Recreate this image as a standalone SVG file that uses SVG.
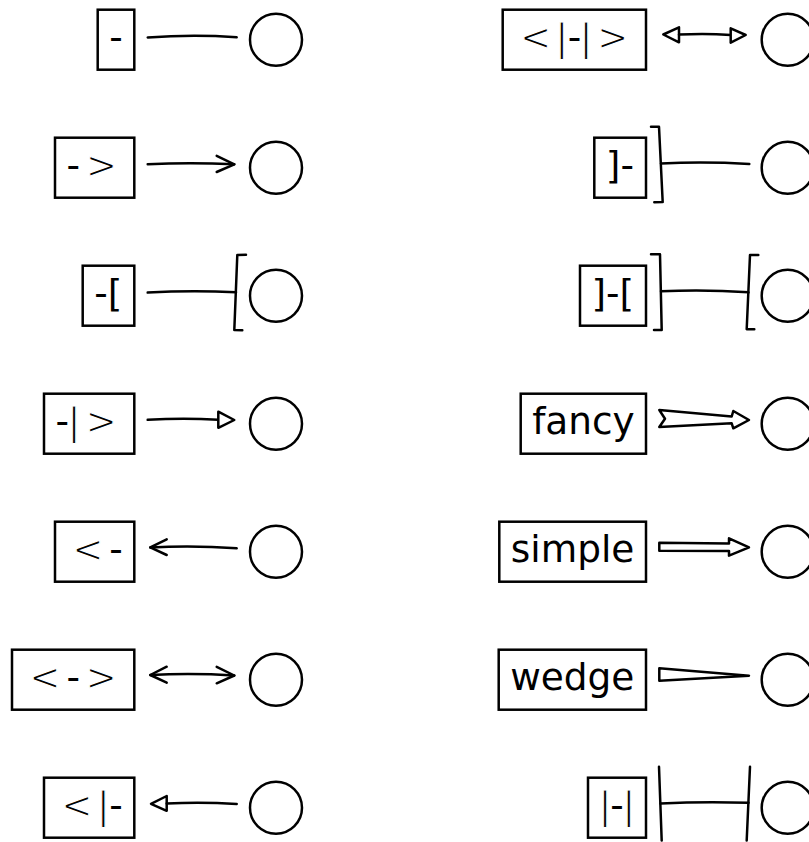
<svg xmlns="http://www.w3.org/2000/svg" width="809" height="842" viewBox="0 0 809 842">
<style>
.bx{fill:#fff;stroke:#000;stroke-width:2.5}
.ci{fill:none;stroke:#000;stroke-width:2.5}
.t{font-family:"DejaVu Sans",sans-serif;font-size:37.45px;fill:#000}
.th{stroke:#fff;stroke-width:1.1;paint-order:fill stroke}
.tb{stroke:#fff;stroke-width:0.9;paint-order:fill stroke}
.ln{fill:none;stroke:#000;stroke-width:2.5;stroke-linecap:round;stroke-linejoin:round}
.hd{fill:#fff;stroke:#000;stroke-width:2.5;stroke-linejoin:round}
</style>
<rect width="809" height="842" fill="#fff"/>
<g id="connectors">
<path class="ln" d="M147.7,37.5 Q192,34.2 236.7,37.2"/>
<path class="ln" d="M147.7,164.3 Q190,162 234.3,164.3"/>
<path class="ln" d="M216.7,155.9 L234.3,164.3 L216.7,172"/>
<path class="ln" d="M147.7,292.6 Q192,290 236,292.3"/>
<path class="ln" d="M246,254.7 L237.3,255 L234.3,330 L242.3,330.3"/>
<path class="ln" d="M147.7,419.8 Q184,417.5 218.3,419.8"/>
<path class="hd" d="M218.3,411.7 L234.3,420 L218.3,427.8 Z"/>
<path class="ln" d="M150.3,547.5 Q194,545.3 236.7,548.3"/>
<path class="ln" d="M166.7,539.3 L150.3,547.4 L166.7,555"/>
<path class="ln" d="M150.3,675 Q192,672.8 234.3,675.5"/>
<path class="ln" d="M166.7,666.7 L150.3,675 L166.7,682.7"/>
<path class="ln" d="M216.7,666.9 L234.3,675.5 L216.7,683.3"/>
<path class="hd" d="M166.7,796 L151,803.8 L166.7,810.8 Z"/>
<path class="ln" d="M166.7,803.5 Q202,801.8 236.7,804"/>
<path class="hd" d="M679,27.3 L663.3,34.5 L679,42.3 Z"/>
<path class="ln" d="M679,34.6 Q705,33 730.7,35"/>
<path class="hd" d="M730.7,28.3 L745.7,35 L730.7,42.7 Z"/>
<path class="ln" d="M651,126.7 L659,126.7 L662.7,202 L654.3,202.3"/>
<path class="ln" d="M661,163.5 Q705,161.5 749.3,164"/>
<path class="ln" d="M651,254.3 L660,254.3 L661.7,330 L654,330"/>
<path class="ln" d="M661,291.3 Q705,289.3 748.5,292.3"/>
<path class="ln" d="M758.3,255 L750,255 L746.7,329.3 L754.3,329.3"/>
<path class="hd" d="M659.3,410 L731.7,416.5 L733.3,411 L749,420 L733.3,428.3 L731.7,423.3 L659.3,427 L665,418.7 Z"/>
<path class="hd" d="M659.3,542.7 L729,543.4 L729,538.3 L749,547.3 L729,555.7 L729,550.9 L659.3,550.7 Z"/>
<path class="hd" d="M659.3,668.3 L749,675.7 L659.3,680.7 Z"/>
<path class="ln" d="M659,766.7 L661.7,840.5"/>
<path class="ln" d="M750,766.7 L746.7,840.5"/>
<path class="ln" d="M660.5,803.4 Q705,801.4 748.5,802.8"/>
</g>
<g id="label-dash"><rect class="bx" x="97.7" y="9.7" width="36.6" height="60"/><text class="t" x="109.2" y="49.6">-</text></g>
<g id="circle-1"><circle class="ci" cx="276" cy="39.7" r="26"/></g>
<g id="label-arrow"><rect class="bx" x="55" y="137.7" width="79.3" height="60"/><text class="t" y="177.6" transform="rotate(0.01 90 167)"><tspan x="66.5">-</tspan><tspan class="th" x="85.7">&gt;</tspan></text></g>
<g id="circle-2"><circle class="ci" cx="276" cy="167.7" r="26"/></g>
<g id="label-bracketb"><rect class="bx" x="82.7" y="265.7" width="51.6" height="60"/><text class="t" y="305.6"><tspan x="94.2">-</tspan><tspan x="107.7">[</tspan></text></g>
<g id="circle-3"><circle class="ci" cx="276" cy="295.7" r="26"/></g>
<g id="label-triangle"><rect class="bx" x="44" y="393.7" width="90.3" height="60"/><text class="t" y="433.6" transform="rotate(0.01 90 423)"><tspan x="55.5">-</tspan><tspan class="tb" x="67.8">|</tspan><tspan class="th" x="85.4">&gt;</tspan></text></g>
<g id="circle-4"><circle class="ci" cx="276" cy="423.7" r="26"/></g>
<g id="label-leftarrow"><rect class="bx" x="55" y="521.7" width="79.3" height="60"/><text class="t" y="561.6" transform="rotate(0.01 90 551)"><tspan class="th" x="72.2">&lt;</tspan><tspan x="109.3">-</tspan></text></g>
<g id="circle-5"><circle class="ci" cx="276" cy="551.7" r="26"/></g>
<g id="label-twoway"><rect class="bx" x="12" y="649.7" width="122.3" height="60"/><text class="t" y="689.6" transform="rotate(0.01 70 679)"><tspan class="th" x="29.2">&lt;</tspan><tspan x="66.5">-</tspan><tspan class="th" x="85.5">&gt;</tspan></text></g>
<g id="circle-6"><circle class="ci" cx="276" cy="679.7" r="26"/></g>
<g id="label-lefttriangle"><rect class="bx" x="44" y="777.7" width="90.3" height="60"/><text class="t" y="817.6" transform="rotate(0.01 90 807)"><tspan class="th" x="61.2">&lt;</tspan><tspan class="tb" x="97">|</tspan><tspan x="109.2">-</tspan></text></g>
<g id="circle-7"><circle class="ci" cx="276" cy="807.7" r="26"/></g>
<g id="label-twotriangle"><rect class="bx" x="502.7" y="9.7" width="143.3" height="60"/><text class="t" y="49.6" transform="rotate(0.01 575 39)"><tspan class="th" x="520">&lt;</tspan><tspan class="tb" x="555.6">|</tspan><tspan x="567.7">-</tspan><tspan class="tb" x="579.8">|</tspan><tspan class="th" x="597">&gt;</tspan></text></g>
<g id="circle-8"><circle class="ci" cx="787.7" cy="39.7" r="26"/></g>
<g id="label-bracketa"><rect class="bx" x="594.3" y="137.7" width="51.7" height="60"/><text class="t" y="177.6"><tspan x="605.8">]</tspan><tspan x="620.4">-</tspan></text></g>
<g id="circle-9"><circle class="ci" cx="787.7" cy="167.7" r="26"/></g>
<g id="label-bracketab"><rect class="bx" x="580" y="265.7" width="66" height="60"/><text class="t" y="305.6"><tspan x="591.5">]</tspan><tspan x="606.1">-</tspan><tspan x="619.6">[</tspan></text></g>
<g id="circle-10"><circle class="ci" cx="787.7" cy="295.7" r="26"/></g>
<g id="label-fancy"><rect class="bx" x="520.7" y="393.7" width="125.3" height="60"/><text class="t" x="532.2" y="433.6">fancy</text></g>
<g id="circle-11"><circle class="ci" cx="787.7" cy="423.7" r="26"/></g>
<g id="label-simple"><rect class="bx" x="499.3" y="521.7" width="146.7" height="60"/><text class="t" x="510.8" y="561.6">simple</text></g>
<g id="circle-12"><circle class="ci" cx="787.7" cy="551.7" r="26"/></g>
<g id="label-wedge"><rect class="bx" x="498.7" y="649.7" width="147.3" height="60"/><text class="t" x="510.2" y="689.6">wedge</text></g>
<g id="circle-13"><circle class="ci" cx="787.7" cy="679.7" r="26"/></g>
<g id="label-bar"><rect class="bx" x="588" y="777.7" width="58" height="60"/><text class="t" y="817.6" transform="rotate(0.01 617 807)"><tspan class="tb" x="598.8">|</tspan><tspan x="610.2">-</tspan><tspan class="tb" x="622.5">|</tspan></text></g>
<g id="circle-14"><circle class="ci" cx="787.7" cy="807.7" r="26"/></g>
</svg>
